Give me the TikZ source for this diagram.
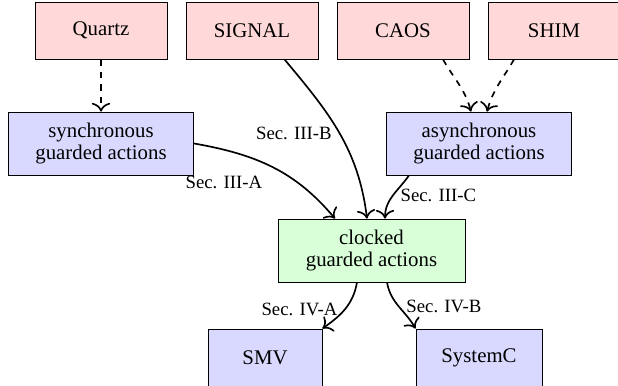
\documentclass[tikz,border=0pt]{standalone}
\usepackage{fontspec}
\setmainfont{Liberation Serif}
\usetikzlibrary{positioning,arrows.meta}

\begin{document}
\begin{tikzpicture}[
  >={To[scale=1.25]},
  every node/.style={font=\fontsize{10}{10.9}\selectfont},
  lang/.style={draw, fill=red!15, minimum width=63.4pt, minimum height=27.4pt},
  guarded/.style={draw, fill=blue!15, align=center, minimum width=89pt, minimum height=30.2pt},
  clock/.style={draw, fill=green!15, align=center, minimum width=89.8pt, minimum height=30.2pt},
  backend/.style={draw, fill=blue!15, minimum height=27.4pt},
  sec/.style={font=\small},
  conv/.style={->, thick},
  port/.style={->, thick, dashed}
]
       \useasboundingbox (0,0) rectangle (296.64pt,-184.8pt);
       \clip (0,0) rectangle (296.64pt,-184.8pt);
       \node [lang] (quartz) at (48.48pt,-14.64pt) {Quartz};
       \node [lang, right of=quartz, node distance=72.48pt] (signal) {SIGNAL};
       \node [lang, right of=signal, node distance=72.48pt] (caos) {CAOS};
       \node [lang, right of=caos, node distance=72.48pt] (shim) {SHIM};
       \node [guarded, below of=quartz, node distance=54.24pt] (sync) {synchronous\\guarded actions};
       \node [guarded, below of=caos, node distance=54.24pt, xshift=36.48pt] (async) {asynchronous\\guarded actions};
       \node [clock, below of=async, node distance=51.36pt, xshift=-51.6pt] (clocked) {clocked\\guarded actions};
       \node [backend, minimum width=54.7pt, below of=clocked, node distance=51.36pt, xshift=-51.12pt] (smv) {SMV};
       \node [backend, minimum width=60.5pt, below of=clocked, node distance=51.36pt, xshift=51.6pt] (systemc) {SystemC};
       \draw [port] (quartz) to (sync);
       \draw [port] ([xshift=19.2pt]caos.south) to[out=-60, in=105] ([xshift=-3.84pt]async.north);
       \draw [port] ([xshift=-19.2pt]shim.south) to[out=-120, in=75] ([xshift=3.84pt]async.north);
       \draw [conv] ([xshift=15.6pt]signal.south) to[out=-50, in=97] node[sec, left] {Sec. III-B} ([xshift=-2.16pt]clocked.north);
       \draw [conv] (sync.east) to[out=-10, in=130] node[sec, below left, pos=0.45, yshift=-2pt, xshift=2pt] {Sec. III-A} ([xshift=-17.5pt]clocked.north);
       \draw [conv] ([xshift=-33.6pt]async.south) to[out=-125, in=90] node[sec, right] {Sec. III-C} ([xshift=6.48pt]clocked.north);
       \draw [conv] ([xshift=-6.96pt]clocked.south) to[out=-100, in=35] node[sec, left] {Sec. IV-A} (smv.north east);
       \draw [conv] ([xshift=7.44pt]clocked.south) to[out=-80, in=120] node[sec, right] {Sec. IV-B} (systemc.north west);
     \end{tikzpicture}
\end{document}
